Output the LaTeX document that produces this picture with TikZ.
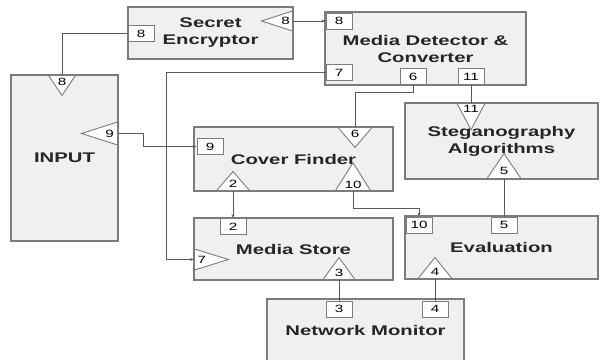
\documentclass[tikz,border=0pt]{standalone}
\usepackage{fontspec}
\setsansfont[FakeStretch=1.45]{Liberation Sans}
\usetikzlibrary{arrows.meta,shapes.geometric,positioning,calc}
\definecolor{boxfill}{HTML}{F0F0F0}
\definecolor{edgegray}{HTML}{7C7C7C}
\definecolor{wiregray}{HTML}{5A5A5A}
\begin{document}
\begin{tikzpicture}[
  x=1pt, y=-1pt,
  font=\sffamily,
  % Node Styles
  module/.style={draw=edgegray, line width=1.2pt, fill=boxfill, align=center, inner sep=0pt, text=black!85, font=\sffamily\bfseries\fontsize{14}{17}\selectfont},
  port_box/.style={draw=edgegray, line width=0.9pt, fill=white, minimum width=26pt, minimum height=16pt, inner sep=0pt, font=\sffamily\fontsize{10.5}{10.5}\selectfont},
  port_tri/.style={draw=edgegray, line width=0.9pt, fill=white, isosceles triangle, isosceles triangle stretches, inner sep=0pt, anchor=lower side, font=\sffamily\fontsize{10.5}{10.5}\selectfont},
  tri_down/.style={port_tri, shape border rotate=-90},
  tri_up/.style={port_tri, shape border rotate=90},
  tri_left/.style={port_tri, shape border rotate=180},
  tri_right/.style={port_tri, shape border rotate=0},
  % Line Styles
  wire/.style={draw=wiregray, line width=1pt},
  wire_tip/.style={wire, -{Stealth[length=4pt, width=3pt]}}
]
\clip (0,0) rectangle (600,359);

% ================= NODES =================

% --- Modules ---
\node[module, minimum width=165, minimum height=52] (enc)    at (210.5,33)  {Secret\\Encryptor};
\node[module, minimum width=107, minimum height=166] (input) at (64.5,158)  {INPUT};
\node[module, minimum width=201, minimum height=73] (detect) at (425.5,48.5) {Media Detector \&\\Converter};
\node[module, minimum width=199, minimum height=64] (cover)  at (293.5,159) {Cover Finder};
\node[module, minimum width=193, minimum height=76] (steg)   at (501.5,141) {Steganography\\Algorithms};
\node[module, minimum width=199, minimum height=62] (store)  at (293.5,249) {Media Store};
\node[module, minimum width=193, minimum height=63] (eval)   at (501.5,247.5) {Evaluation};
\node[module, minimum width=197, minimum height=62] (netmon) at (365.5,330)   {Network Monitor};

% --- Port Boxes ---
\node[port_box] (enc8)   at (141,33.5)  {8};
\node[port_box] (det8)   at (339,21)    {8};
\node[port_box] (det7)   at (339,72.5)  {7};
\node[port_box] (det6)   at (413,76.5)  {6};
\node[port_box] (det11)  at (471,76.5)  {11};
\node[port_box] (cov9)   at (210,146.5) {9};
\node[port_box] (store2) at (233,226.5) {2};
\node[port_box] (eval10) at (419,225)   {10};
\node[port_box] (eval5)  at (504,225)   {5};
\node[port_box] (net3)   at (339,309)   {3};
\node[port_box] (net4)   at (435,309)   {4};

% --- Port Triangles (width = base, height = depth) ---
\node[tri_left, minimum width=20, minimum height=31]  (enc_t8)   at (293,21)   {8};
\node[tri_down, minimum width=27, minimum height=20]  (in_t8)    at (62,75)    {8};
\node[tri_left, minimum width=23, minimum height=36]  (in_t9)    at (118,133.5) {9};
\node[tri_down, minimum width=34, minimum height=20]  (cov_t6)   at (355,127)  {6};
\node[tri_up, minimum width=33, minimum height=19]    (cov_t2)   at (233,191)  {2};
\node[tri_up, minimum width=35, minimum height=20]    (cov_t10)  at (353,191)  {10};
\node[tri_down, minimum width=28, minimum height=20]  (steg_t11) at (471,103)  {11};
\node[tri_up, minimum width=34, minimum height=25]    (steg_t5)  at (504,179)  {5};
\node[tri_right, minimum width=21, minimum height=34] (store_t7) at (194,259.5) {7};
\node[tri_up, minimum width=32, minimum height=22]    (store_t3) at (339,280)  {3};
\node[tri_up, minimum width=34, minimum height=21]    (eval_t4)  at (435,279)  {4};

% ================= CONNECTIONS =================

\draw[wire] (enc8.west) -| (in_t8.lower side);
\draw[wire_tip] (enc_t8.lower side) -- (det8.west);
\draw[wire_tip] (det7.west) -- ++(-159,0) |- (store_t7.lower side);
\draw[wire_tip] (in_t9.lower side) -- ++(25,0) |- (cov9.west);
\draw[wire] (det6.south) -- ++(0,8) -| (cov_t6.lower side);
\draw[wire] (det11.south) -- (steg_t11.lower side);
\draw[wire_tip] (cov_t2.lower side) -- (store2.north);
\draw[wire_tip] (cov_t10.lower side) -- ++(0,17) -| (eval10.north);
\draw[wire] (steg_t5.lower side) -- (eval5.north);
\draw[wire] (store_t3.lower side) -- (net3.north);
\draw[wire] (eval_t4.lower side) -- (net4.north);

\end{tikzpicture}
\end{document}
